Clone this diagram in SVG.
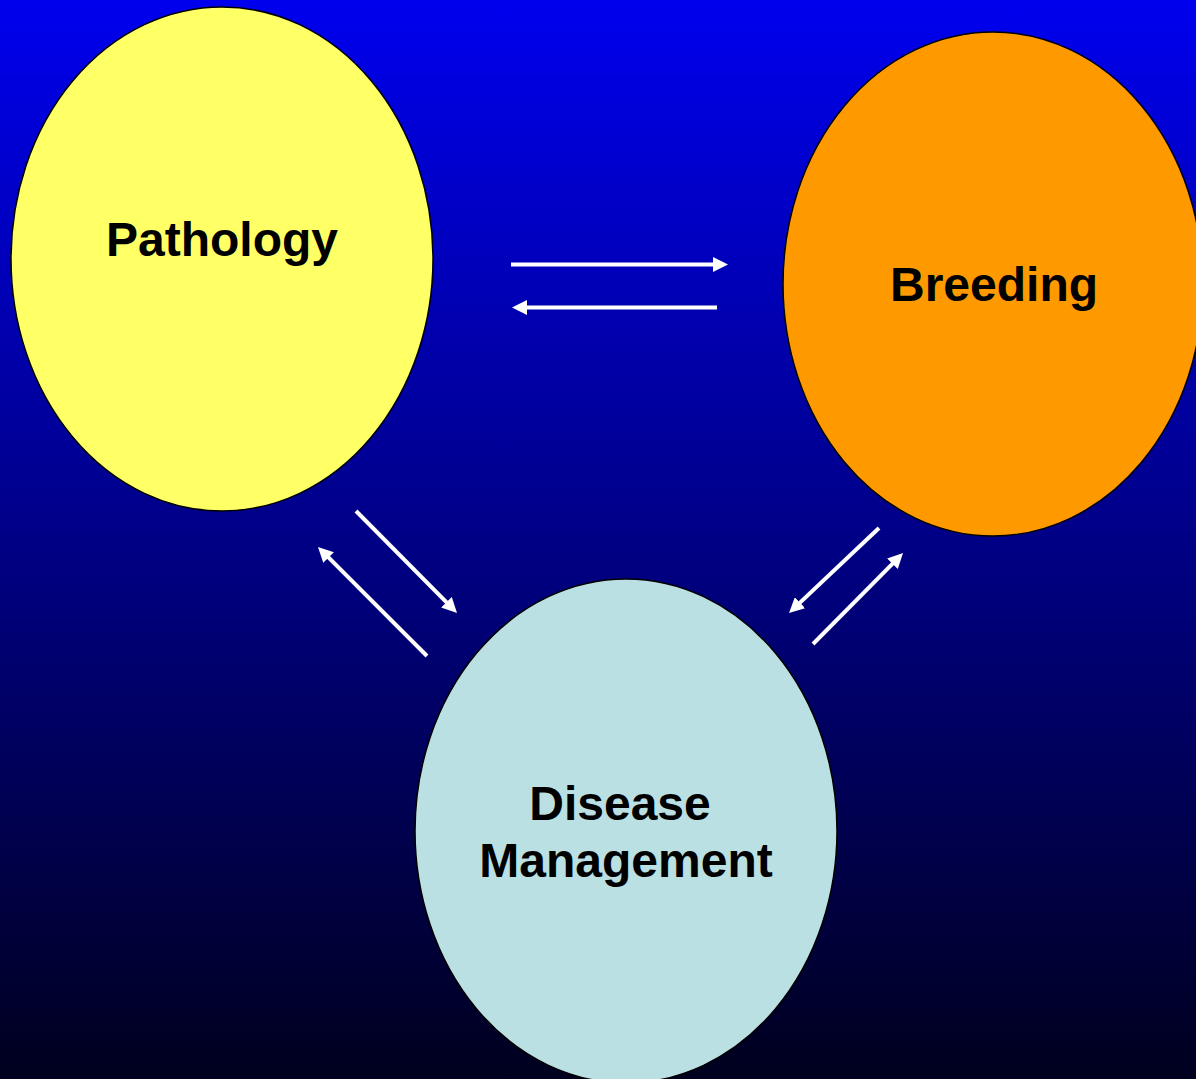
<svg xmlns="http://www.w3.org/2000/svg" width="1196" height="1079" viewBox="0 0 1196 1079">
<defs>
<linearGradient id="bg" x1="0" y1="0" x2="0" y2="1">
<stop offset="0" stop-color="#0000EE"/>
<stop offset="1" stop-color="#00001E"/>
</linearGradient>
<marker id="ah" markerUnits="userSpaceOnUse" markerWidth="15" markerHeight="15" refX="9" refY="7.5" orient="auto">
<path d="M0,0 L15,7.5 L0,15 z" fill="#FFFFFF"/>
</marker>
</defs>
<style>
.node{stroke:#000000;stroke-width:1.5}
.lbl{font-family:"Liberation Sans",Arial,sans-serif;font-weight:bold;font-size:48px;fill:#000000;text-anchor:middle}
.arr{stroke:#FFFFFF;stroke-width:4;fill:none;marker-end:url(#ah)}
</style>
<rect x="0" y="0" width="1196" height="1079" fill="url(#bg)"/>
<g id="pathology">
<ellipse class="node" cx="222" cy="259" rx="211" ry="252" fill="#FFFF66"/>
<text class="lbl" x="222" y="256">Pathology</text>
</g>
<g id="breeding">
<ellipse class="node" cx="993" cy="284" rx="210" ry="252" fill="#FF9900"/>
<text class="lbl" x="994" y="301">Breeding</text>
</g>
<g id="disease-management">
<ellipse class="node" cx="626" cy="831" rx="211" ry="252" fill="#BBE0E3"/>
<text class="lbl" x="620" y="820">Disease</text>
<text class="lbl" x="626" y="877">Management</text>
</g>
<g id="connectors">
<line class="arr" x1="511" y1="264.5" x2="722" y2="264.5"/>
<line class="arr" x1="717" y1="307.5" x2="518" y2="307.5"/>
<line class="arr" x1="356" y1="511" x2="452.8" y2="608.7"/>
<line class="arr" x1="427" y1="656" x2="322.2" y2="551.2"/>
<line class="arr" x1="879" y1="528" x2="793.4" y2="608.9"/>
<line class="arr" x1="813" y1="644" x2="898.8" y2="557.3"/>
</g>
</svg>
